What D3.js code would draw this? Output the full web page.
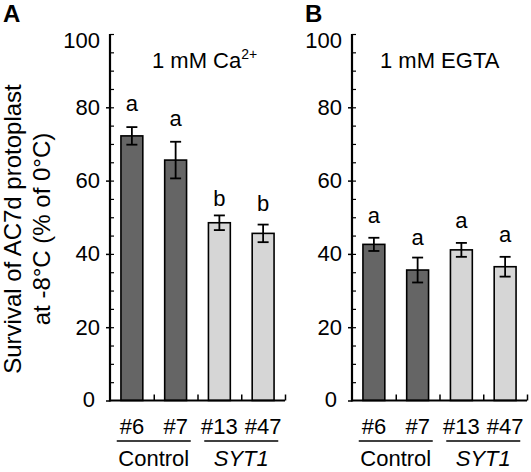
<!DOCTYPE html>
<html>
<head>
<meta charset="utf-8">
<script src="https://cdn.jsdelivr.net/npm/d3@7"></script>
<style>
  html, body { margin: 0; padding: 0; background: #fff; }
  svg { display: block; font-family: "Liberation Sans", Arial, sans-serif; }
</style>
</head>
<body>
<svg id="chart" width="531" height="472"></svg>
<script>
// ---- data ----
const categories = ["#6", "#7", "#13", "#47"];
const groups = ["Control", "SYT1"];
const groupOf = [0, 0, 1, 1];
const yTicks = [0, 20, 40, 60, 80, 100];
const minorTicks = d3.range(0, 101, 5);

const panelLetters = ["A", "B"];
const titlesMain = ["1 mM Ca", "1 mM EGTA"];
const titlesSup = ["2+", ""];

const valuesA = [72.2, 65.6, 48.5, 45.6];
const errorsA = [2.4, 5.0, 2.0, 2.4];
const lettersA = ["a", "a", "b", "b"];
const letterPosA = [79.0, 74.9, 53.2, 51.8];

const valuesB = [42.6, 35.6, 41.1, 36.5];
const errorsB = [1.8, 3.4, 1.9, 2.7];
const lettersB = ["a", "a", "a", "a"];
const letterPosB = [48.4, 42.4, 47.0, 43.3];

const panelValues = [valuesA, valuesB];
const panelErrors = [errorsA, errorsB];
const panelLettersSig = [lettersA, lettersB];
const panelLetterPos = [letterPosA, letterPosB];

// ---- layout ----
const svg = d3.select("#chart");
const FONT = 22;
const yTop = 34, yBottom = 400.5;
const axisX = [110, 352];
const plotW = 175;
const barColors = ["#656565", "#d6d6d6"];

const y = d3.scaleLinear().domain([0, 100]).range([yBottom, yTop]);

panelLetters.forEach((L, p) => {
  const x0 = axisX[p];
  const g = svg.append("g");
  const xb = d3.scaleBand().domain(categories).range([x0, x0 + plotW]).paddingInner(0.5).paddingOuter(0.25);
  const xl = d3.scaleLinear().domain([0, categories.length]).range([x0, x0 + plotW]);

  // bars
  g.selectAll("rect.bar").data(panelValues[p]).join("rect")
    .attr("class", "bar")
    .attr("x", (d, i) => xb(categories[i]))
    .attr("width", xb.bandwidth())
    .attr("y", d => y(d))
    .attr("height", d => y(0) - y(d))
    .attr("fill", (d, i) => barColors[groupOf[i]])
    .attr("stroke", "#000").attr("stroke-width", 1.6);

  // error bars
  const errs = panelErrors[p];
  const eg = g.selectAll("g.err").data(panelValues[p]).join("g").attr("class", "err")
    .attr("transform", (d, i) => `translate(${xb(categories[i]) + xb.bandwidth() / 2},0)`);
  eg.append("line").attr("y1", (d, i) => y(d - errs[i])).attr("y2", (d, i) => y(d + errs[i]))
    .attr("stroke", "#000").attr("stroke-width", 1.8);
  eg.append("line").attr("x1", -5.5).attr("x2", 5.5)
    .attr("y1", (d, i) => y(d + errs[i])).attr("y2", (d, i) => y(d + errs[i]))
    .attr("stroke", "#000").attr("stroke-width", 1.8);
  eg.append("line").attr("x1", -5.5).attr("x2", 5.5)
    .attr("y1", (d, i) => y(d - errs[i])).attr("y2", (d, i) => y(d - errs[i]))
    .attr("stroke", "#000").attr("stroke-width", 1.8);

  // significance letters
  g.selectAll("text.sig").data(panelLettersSig[p]).join("text")
    .attr("class", "sig")
    .attr("x", (d, i) => xb(categories[i]) + xb.bandwidth() / 2)
    .attr("y", (d, i) => y(panelLetterPos[p][i]))
    .attr("text-anchor", "middle").attr("font-size", FONT)
    .text(d => d);

  // y axis: major (outer) ticks with labels
  const yAxis = d3.axisLeft(y).tickValues(yTicks).tickSize(4).tickPadding(6).tickFormat(d3.format("d"));
  const ya = g.append("g").attr("transform", `translate(${x0},0)`).call(yAxis);
  ya.select(".domain").remove();
  ya.selectAll(".tick line").attr("stroke-width", 1.5).filter(d => d === 100).remove();
  ya.selectAll(".tick text").attr("font-size", FONT).attr("font-family", "Liberation Sans, Arial, sans-serif").attr("fill", "#000");
  ya.selectAll(".tick text").filter(d => d === 100).attr("dy", "0.62em");
  ya.selectAll(".tick text").filter(d => d === 0).attr("dx", -5).attr("dy", "0.25em");

  // minor (inner) ticks
  const yMinor = d3.axisRight(y).tickValues(minorTicks.filter(v => v > 0)).tickSize(4).tickFormat("");
  const ym = g.append("g").attr("transform", `translate(${x0},0)`).call(yMinor);
  ym.select(".domain").remove();
  ym.selectAll(".tick line").attr("stroke-width", 1.2);

  // axis lines
  g.append("line").attr("x1", x0).attr("x2", x0).attr("y1", y(0) + 1).attr("y2", y(100))
    .attr("stroke", "#000").attr("stroke-width", 2.2);
  g.append("line").attr("x1", x0).attr("x2", x0 + plotW).attr("y1", y(0)).attr("y2", y(0))
    .attr("stroke", "#000").attr("stroke-width", 2.2);

  // x axis separators (upward ticks at band edges)
  const xSep = d3.axisTop(xl).tickValues(d3.range(1, categories.length + 1)).tickSize(6).tickFormat("");
  const xs = g.append("g").attr("transform", `translate(0,${y(0)})`).call(xSep);
  xs.select(".domain").remove();
  xs.selectAll(".tick line").attr("stroke-width", 1.5);

  // category labels
  const xAxis = d3.axisBottom(xb).tickSize(0).tickPadding(0);
  const xa = g.append("g").attr("transform", `translate(0,${y(0)})`).call(xAxis);
  xa.select(".domain").remove();
  xa.selectAll(".tick text").attr("font-size", FONT).attr("font-family", "Liberation Sans, Arial, sans-serif")
    .attr("fill", "#000").attr("dy", null).attr("y", 33);

  // group underlines & labels (centred under each group)
  groups.forEach((grp, gi) => {
    const idx = categories.map((c, i) => i).filter(i => groupOf[i] === gi);
    const first = idx[0], last = idx[idx.length - 1];
    const cx1 = xb(categories[first]) + xb.bandwidth() / 2;
    const cx2 = xb(categories[last]) + xb.bandwidth() / 2;
    const mid = (cx1 + cx2) / 2;
    const half = 37;
    g.append("line").attr("x1", mid - half).attr("x2", mid + half).attr("y1", 441).attr("y2", 441)
      .attr("stroke", "#000").attr("stroke-width", 1.5);
    g.append("text").attr("x", mid).attr("y", 466)
      .attr("text-anchor", "middle").attr("font-size", FONT)
      .attr("font-style", gi === 1 ? "italic" : "normal")
      .text(grp);
  });

  // title
  const t = g.append("text").attr("x", x0 + (p === 0 ? 42 : 28)).attr("y", 68).attr("font-size", FONT);
  t.append("tspan").text(titlesMain[p]);
  if (titlesSup[p]) t.append("tspan").attr("font-size", 14).attr("dy", -9).text(titlesSup[p]);

  // panel letter
  svg.append("text").attr("x", p === 0 ? 3 : 305).attr("y", 22)
    .attr("font-size", 24).attr("font-weight", "bold").text(L);
});

// y-axis title
const yl = svg.append("text").attr("transform", "translate(0,229) rotate(-90)")
  .attr("text-anchor", "middle").attr("font-size", 24);
yl.append("tspan").attr("x", 0).attr("y", 21).text("Survival of AC7d protoplast");
yl.append("tspan").attr("x", 0).attr("y", 50).text("at -8°C (% of 0°C)");
</script>
</body>
</html>
